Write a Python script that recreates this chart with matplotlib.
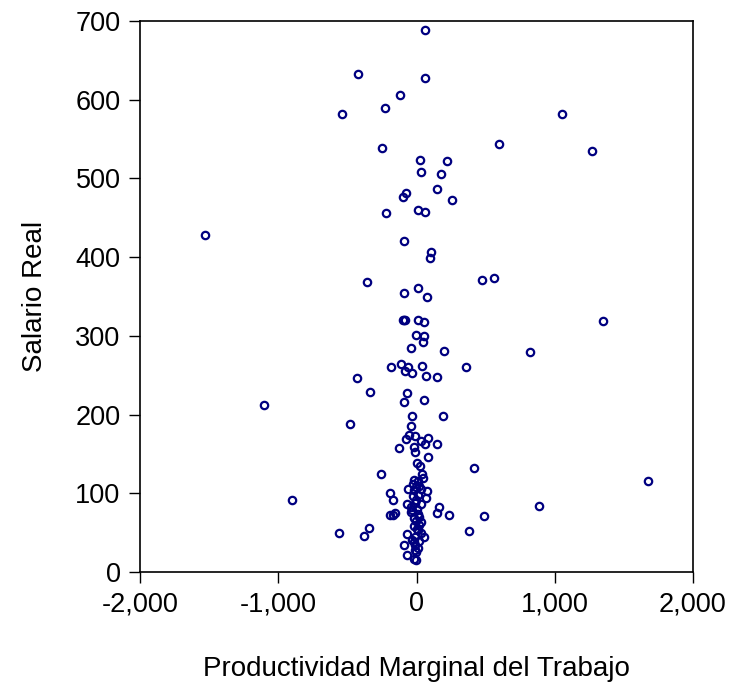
import matplotlib
matplotlib.use("Agg")
import matplotlib.pyplot as plt
from matplotlib.ticker import FuncFormatter

plt.rcParams['font.family'] = ['Liberation Sans', 'DejaVu Sans']

# Productividad Marginal del Trabajo (x) and Salario Real (y)
pmg = [64, -425, 62, -119, -229, -539, 1053, -252, 594, 1269,
       26, 217, 34, 179, 148, -76, -96, 258,
       9, 62, -218, -1533, -91, 108, 95, -361, 477, 561,
       11, -94, 77, -95, -88, -82, 9, 54, 1346, -2, 52, 49,
       -38, 200, 823, -188, -109, -58, -84, -30, 41, 355, 72, 148, -427,
       -336, -68, -91, 54, -1100, -30, 192, -478, -38, -53, -9, -73, 85,
       29, 59, 145, -129, -19, -14, 80, 413, 6, 24, -260, 41, 49, 1672,
       -17, 9, -27, 21, -63, -17, 77, 34, -195, -170, 69, -22, -4, -68,
       29, -43, -30, 161, 146, 238, 490, 886, -901, 14, -170, -195, -152,
       -43, -17, 34, -557, -343, -379, 383, -68, -17, 9, 34, 57, 21, -30,
       -89, -12, -68, -9, -17, -7,
       -5, 8, -12, 15, -3, 4, -10, 12, -6, 2, 18, -15]
salario = [689, 633, 627, 606, 589, 582, 582, 539, 544, 535,
           523, 522, 508, 505, 487, 481, 477, 473,
           460, 457, 456, 428, 421, 407, 399, 369, 371, 373,
           361, 355, 350, 320, 320, 320, 320, 318, 319, 301, 300, 292,
           284, 281, 280, 261, 264, 260, 255, 253, 262, 260, 249, 248, 246,
           229, 228, 216, 219, 212, 198, 198, 188, 186, 174, 173, 169, 170,
           166, 162, 162, 158, 159, 152, 146, 132, 139, 135, 125, 125, 119, 115,
           117, 116, 112, 109, 106, 104, 103, 106, 100, 92, 94, 96, 91, 86,
           87, 83, 79, 83, 75, 73, 71, 84, 91, 74, 72, 72, 75,
           76, 68, 63, 50, 56, 46, 52, 48, 58, 53, 49, 44, 39, 41,
           34, 34, 22, 28, 16, 15,
           25, 30, 45, 60, 65, 80, 88, 98, 108, 55, 70, 38]

xticks = [-2000, -1000, 0, 1000, 2000]
yticks = [0, 100, 200, 300, 400, 500, 600, 700]

fig = plt.figure(figsize=(7.30, 6.83), dpi=100)
ax = fig.add_axes([140/730, 1-572/683, 553/730, 551/683])

ax.plot(pmg, salario, linestyle='none', marker='o', markersize=5.3,
        markerfacecolor='none', markeredgecolor='#000080', markeredgewidth=1.6)

ax.set_xlim(-2000, 2000)
ax.set_ylim(0, 700)
ax.set_xticks(xticks)
ax.set_yticks(yticks)
ax.xaxis.set_major_formatter(FuncFormatter(lambda v, p: f"{int(v):,}"))
ax.tick_params(axis='both', direction='out', length=8, width=1, pad=6,
               labelsize=19.5, colors='black')
ax.tick_params(axis='y', pad=6)
for s in ax.spines.values():
    s.set_linewidth(1.2)

ax.set_xlabel('Productividad Marginal del Trabajo', fontsize=20, labelpad=28)
ax.set_ylabel('Salario Real', fontsize=20, labelpad=20)

fig.savefig('out.png', dpi=100)
